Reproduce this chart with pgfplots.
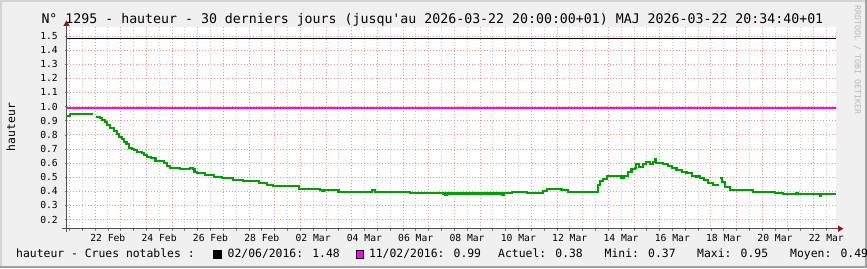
\documentclass[border=0pt]{standalone}
\usepackage{pgfplots}
\pgfplotsset{compat=1.18}
\usepackage{fontspec}
\setmainfont{DejaVu Sans Mono}
\definecolor{bg}{HTML}{F0F0F0}
\definecolor{shadea}{HTML}{D4D4D4}
\definecolor{shadeb}{HTML}{A0A0A0}
\definecolor{mgrid}{RGB}{240,150,150}
\definecolor{mingrid}{RGB}{200,200,200}
\definecolor{dgreen}{HTML}{00A000}
\definecolor{arrowc}{HTML}{8B1A1A}
\definecolor{axisc}{HTML}{505050}
\definecolor{magc}{RGB}{255,0,255}
\newcommand{\lfont}{\fontsize{11.4bp}{13bp}\selectfont}
\begin{document}
\begin{tikzpicture}[x=1bp,y=1bp]
\fill[bg] (0,0) rectangle (867,268);
\useasboundingbox (0,0) rectangle (867,268);
\fill[shadea] (0,0) rectangle (2,268);
\fill[shadea] (0,266) rectangle (867,268);
\fill[shadeb] (865,0) rectangle (867,268);
\fill[shadeb] (0,0) rectangle (867,2);
\begin{axis}[
  at={(66.5bp,39.3bp)}, anchor=south west, scale only axis,
  width=769.8bp, height=201.2bp,
  xmin=0.89, xmax=30.89, ymin=0.135, ymax=1.56,
  axis background/.style={fill=white},
  axis line style={draw=none},
  tick pos=left, tick align=outside,
  major tick length=2bp, minor tick length=2bp,
  tick style={draw=gray, line width=0.6bp},
  /pgf/number format/assume math mode=true,
  ticklabel style={font=\fontsize{9.7bp}{11bp}\selectfont},
  ytick={0.2,0.3,0.4,0.5,0.6,0.7,0.8,0.9,1.0,1.1,1.2,1.3,1.4,1.5},
  yticklabel style={/pgf/number format/fixed, /pgf/number format/fixed zerofill, /pgf/number format/precision=1},
  yticklabel style={anchor=east, inner sep=0pt, xshift=-6.5bp},
  xtick={2.5,4.5,...,30.5},
  xticklabels={22 Feb,24 Feb,26 Feb,28 Feb,02 Mar,04 Mar,06 Mar,08 Mar,10 Mar,12 Mar,14 Mar,16 Mar,18 Mar,20 Mar,22 Mar},
  xticklabel style={anchor=base, inner sep=0pt, yshift=-10.3bp},
  minor xtick={1.5,2.5,...,30.5},
  extra x ticks={1,2,...,30},
  extra x tick labels={},
  extra x tick style={xmajorgrids=true},
  xmajorgrids=false, ymajorgrids=true, xminorgrids=true,
  major grid style={mgrid, line width=0.7bp, dash pattern=on 1bp off 2bp},
  minor grid style={mingrid, line width=0.7bp, dash pattern=on 1bp off 2bp},
]
\addplot[black, line width=1.3bp] coordinates {(0.89,1.48) (30.89,1.48)};
\addplot[magc, line width=1.3bp] coordinates {(0.89,0.99) (30.89,0.99)};
\addplot[const plot, dgreen, line width=2.1bp] coordinates {
(0.89,0.933) (1.026,0.95) (1.935,0.95)};
\addplot[const plot, dgreen, line width=2.1bp] coordinates {
(2.026,0.926) (2.195,0.921) (2.26,0.905) (2.39,0.888) (2.48,0.87) (2.58,0.85)
(2.74,0.827) (2.87,0.806) (2.95,0.787) (3.04,0.768) (3.13,0.751) (3.23,0.733)
(3.32,0.709) (3.43,0.70) (3.52,0.69) (3.65,0.678) (3.82,0.671) (3.91,0.657)
(4.04,0.643) (4.17,0.633) (4.36,0.617) (4.70,0.598) (4.82,0.579) (4.92,0.567)
(5.31,0.56) (5.70,0.567) (5.81,0.556) (5.88,0.539) (5.96,0.527) (6.29,0.518)
(6.65,0.501) (6.94,0.492) (7.39,0.483) (7.78,0.471) (8.39,0.461) (8.69,0.447)
(8.95,0.440) (9.47,0.435) (9.96,0.419) (10.77,0.412) (10.86,0.40) (10.92,0.412)
(11.49,0.398) (12.78,0.412) (12.91,0.398) (14.27,0.388) (15.57,0.384) (15.64,0.375)
(15.70,0.384) (17.84,0.384) (17.88,0.372) (17.94,0.39) (18.24,0.398) (18.82,0.388)
(19.47,0.402) (19.60,0.419) (20.18,0.412) (20.44,0.398) (21.55,0.393) (21.61,0.445)
(21.68,0.475) (21.78,0.487) (21.94,0.508) (22.52,0.492) (22.60,0.511) (22.78,0.539)
(22.91,0.556) (23.04,0.563) (23.10,0.591) (23.21,0.575) (23.34,0.591) (23.49,0.605)
(23.62,0.591) (23.75,0.61) (23.82,0.629) (23.88,0.603) (24.14,0.595) (24.34,0.582)
(24.47,0.567) (24.66,0.549) (24.86,0.539) (25.05,0.527) (25.25,0.511) (25.44,0.499)
(25.51,0.51) (25.57,0.492) (25.73,0.478) (25.90,0.461) (26.09,0.445) (26.29,0.438)};
\addplot[const plot, dgreen, line width=2.1bp] coordinates {
(26.35,0.492) (26.45,0.464) (26.55,0.433) (26.74,0.412) (27.65,0.398) (28.43,0.393)
(28.49,0.39) (28.82,0.381) (29.34,0.386) (29.40,0.381) (30.25,0.369) (30.31,0.381)
(30.89,0.381)};
\end{axis}
\draw[axisc, line width=1bp] (62,39.3) -- (838,39.3);
\fill[arrowc] (843.5,39.3) -- (838,42.5) -- (838,36.1) -- cycle;
\draw[axisc, line width=1bp] (66.5,36) -- (66.5,242);
\fill[arrowc] (66.5,247.5) -- (63.3,242) -- (69.7,242) -- cycle;
\node[anchor=base, inner sep=0pt, font=\fontsize{13.25bp}{15bp}\selectfont] at (432.4,244.7)
  {N° 1295 - hauteur - 30 derniers jours (jusqu\textquotesingle au 2026-03-22 20:00:00+01) MAJ 2026-03-22 20:34:40+01};
\node[anchor=base, inner sep=0pt, rotate=90, font=\lfont] at (15,141) {hauteur};
\node[anchor=center, inner sep=0pt, rotate=-90, text=gray!55, font=\fontsize{8.3bp}{9bp}\selectfont] at (857.5,208) {RRDTOOL / TOBI OETIKER};
\node[anchor=base west, inner sep=0pt, font=\lfont] at (16,10.3) {hauteur - Crues notables :};
\filldraw[fill=black, draw=black, line width=0.6bp] (213,9.7) rectangle (221.7,18);
\node[anchor=base west, inner sep=0pt, font=\lfont] at (227.5,10.3) {02/06/2016: 1.48};
\filldraw[fill=magc, draw=black, line width=0.6bp] (356,9.7) rectangle (363.3,18);
\node[anchor=base west, inner sep=0pt, font=\lfont] at (368.8,10.3) {11/02/2016: 0.99};
\node[anchor=base west, inner sep=0pt, font=\lfont] at (498,10.3) {Actuel: 0.38};
\node[anchor=base west, inner sep=0pt, font=\lfont] at (604.5,10.3) {Mini: 0.37};
\node[anchor=base west, inner sep=0pt, font=\lfont] at (697,10.3) {Maxi: 0.95};
\node[anchor=base west, inner sep=0pt, font=\lfont] at (790,10.3) {Moyen: 0.49};
\end{tikzpicture}
\end{document}
